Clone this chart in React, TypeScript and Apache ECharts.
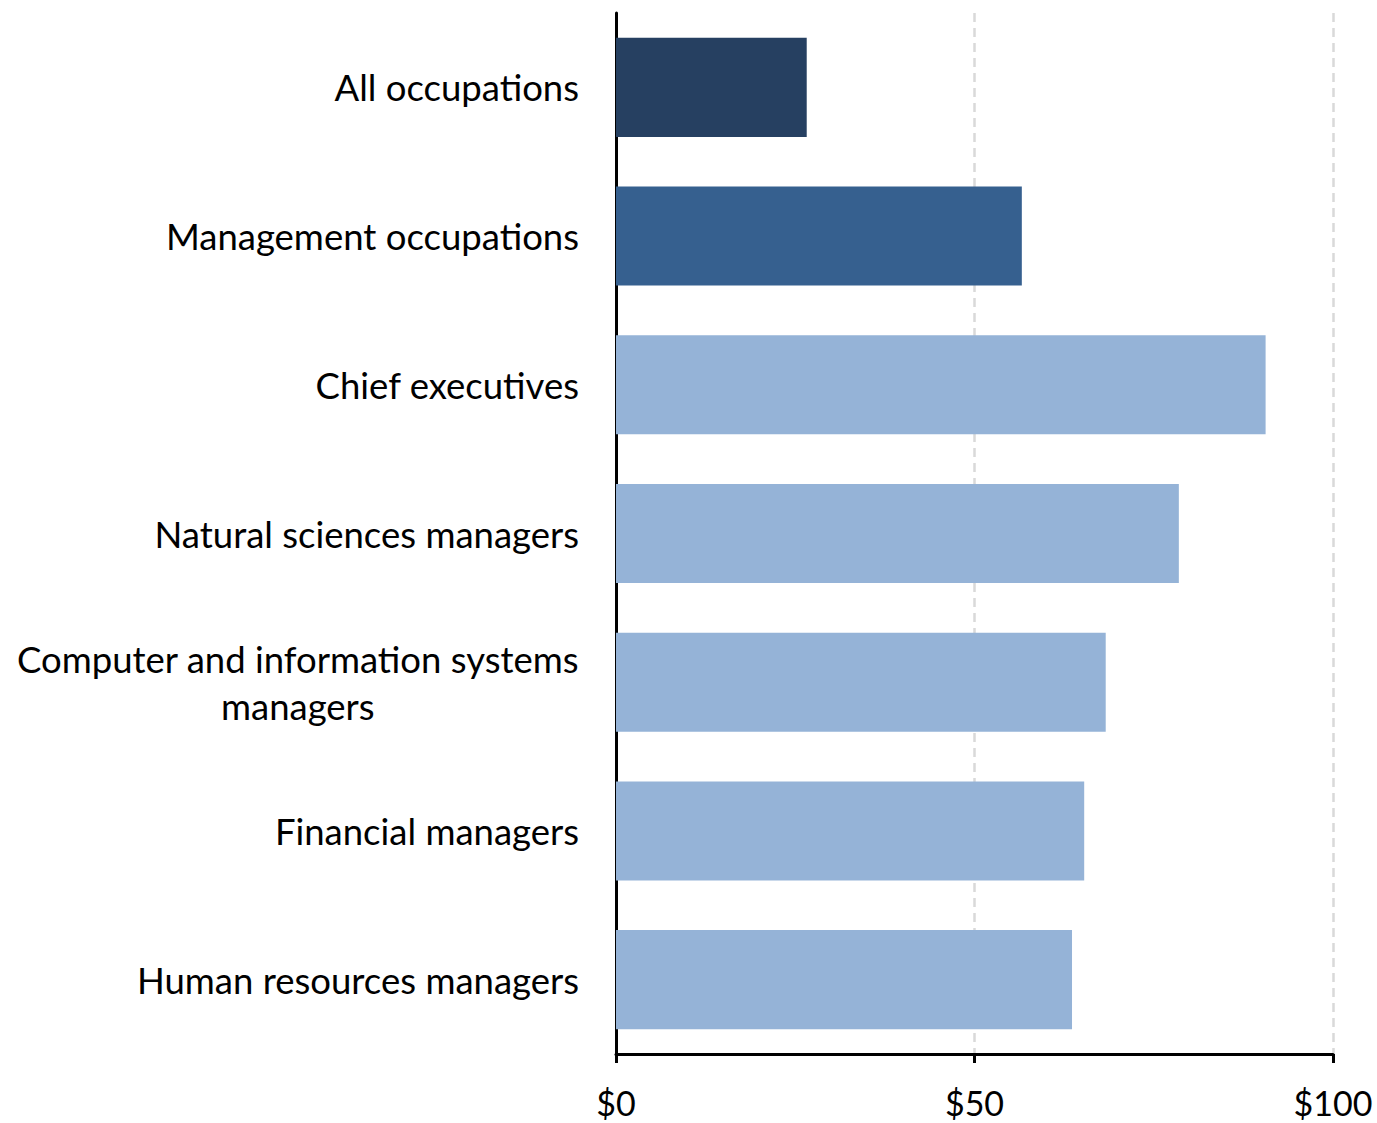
import React, { useEffect, useRef } from "react";
import * as echarts from "echarts";

const categories = [
  "All occupations",
  "Management occupations",
  "Chief executives",
  "Natural sciences managers",
  "Computer and information systems managers",
  "Financial managers",
  "Human resources managers",
];
const values = [26.6, 56.6, 90.6, 78.5, 68.3, 65.3, 63.6];
const groups = ["all", "management", "detail", "detail", "detail", "detail", "detail"];
const xTicks = [0, 50, 100];

const groupColors: Record<string, string> = {
  all: "#264061",
  management: "#36608F",
  detail: "#95B3D7",
};

const FONT = "Lato";
const FONT_SIZE = 36.5;
const TICK_FONT_SIZE = 34;
const MAX_LINE = 590;

function measure(text: string): number {
  const c = document.createElement("canvas").getContext("2d");
  if (!c) return text.length * FONT_SIZE * 0.5;
  c.font = `${FONT_SIZE}px ${FONT}`;
  return c.measureText(text).width;
}

function splitLines(v: string): string[] {
  if (measure(v) <= MAX_LINE) return [v];
  const words = v.split(" ");
  const lines: string[] = [];
  let cur = "";
  for (const w of words) {
    const t = cur ? cur + " " + w : w;
    if (measure(t) > MAX_LINE && cur) {
      lines.push(cur);
      cur = w;
    } else cur = t;
  }
  if (cur) lines.push(cur);
  return lines;
}

function wrapLabel(v: string): string {
  const lines = splitLines(v);
  if (lines.length === 1) return v;
  return lines.map((l) => `{c|${l}}`).join("\n");
}

export default function App() {
  const ref = useRef<HTMLDivElement>(null);
  useEffect(() => {
    document.body.style.margin = "0";
    document.body.style.overflow = "hidden";
    if (!ref.current) return;
    const chart = echarts.init(ref.current, undefined, { renderer: "svg" });
    const longest = Math.max(
      0,
      ...categories.flatMap((c) => {
        const s = splitLines(c);
        return s.length > 1 ? s.map(measure) : [0];
      })
    );
    chart.setOption({
      animation: false,
      backgroundColor: "#ffffff",
      grid: { left: 616, right: 44, top: 13, bottom: 69, containLabel: false },
      xAxis: {
        type: "value",
        min: 0,
        max: 100,
        interval: 50,
        axisLine: { show: true, lineStyle: { color: "#000", width: 3 } },
        axisTick: { show: true, length: 9, lineStyle: { color: "#000", width: 3 } },
        axisLabel: {
          margin: 31,
          color: "#000",
          fontFamily: FONT,
          fontSize: TICK_FONT_SIZE,
          formatter: (v: number) => (xTicks.includes(v) ? `$${v}` : ""),
        },
        splitLine: {
          show: true,
          lineStyle: { color: "#D9D9D9", width: 2.5, type: [9, 6] },
        },
      },
      yAxis: {
        type: "category",
        inverse: true,
        data: categories,
        axisLine: { show: true, lineStyle: { color: "#000", width: 3 } },
        axisTick: { show: false },
        axisLabel: {
          margin: 37,
          color: "#000",
          fontFamily: FONT,
          fontSize: FONT_SIZE,
          lineHeight: 47,
          formatter: (v: string) => wrapLabel(v),
          rich: {
            c: {
              width: longest,
              align: "center",
              color: "#000",
              fontFamily: FONT,
              fontSize: FONT_SIZE,
              lineHeight: 47,
            },
          },
        },
        splitLine: { show: false },
      },
      series: [
        {
          type: "bar",
          barCategoryGap: "33.4%",
          data: values.map((v, i) => ({
            value: v,
            itemStyle: { color: groupColors[groups[i]] },
          })),
        },
      ],
    });
    return () => chart.dispose();
  }, []);
  return (
    <div
      ref={ref}
      style={{ position: "absolute", left: 0, top: 0, width: 1377, height: 1123 }}
    />
  );
}
